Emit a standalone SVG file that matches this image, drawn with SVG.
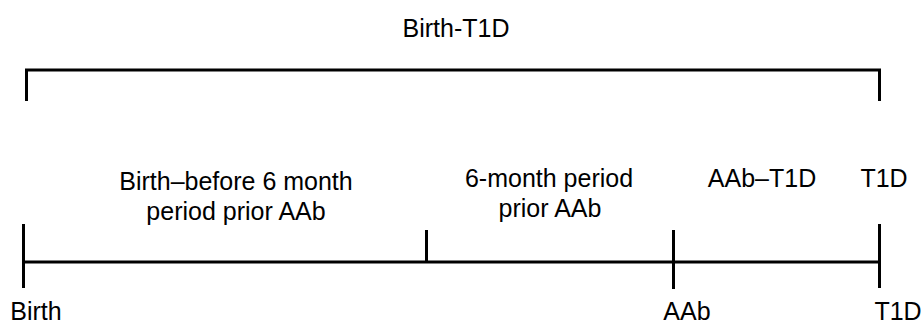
<svg xmlns="http://www.w3.org/2000/svg" width="923" height="325" viewBox="0 0 923 325">
<style>
  text { font-family: "Liberation Sans", Arial, sans-serif; font-size: 25px; fill: #000; text-anchor: middle; }
  .ln { stroke: #000; stroke-width: 3; fill: none; stroke-linecap: butt; }
</style>
<rect width="923" height="325" fill="#fff"/>
<g id="connectors">
  <path class="ln" d="M26.5 101 V70 H879.5 V101"/>
  <line class="ln" x1="22" y1="262" x2="881" y2="262"/>
  <line class="ln" x1="23.5" y1="224" x2="23.5" y2="288"/>
  <line class="ln" x1="426.5" y1="230" x2="426.5" y2="262"/>
  <line class="ln" x1="673.5" y1="230" x2="673.5" y2="289"/>
  <line class="ln" x1="879.5" y1="224" x2="879.5" y2="288"/>
</g>
<g id="label-birth-t1d"><text x="456" y="37">Birth-T1D</text></g>
<g id="label-birth-before"><text x="236" y="190">Birth–before 6 month</text><text x="236" y="220">period prior AAb</text></g>
<g id="label-6month"><text x="549" y="187">6-month period</text><text x="550" y="217">prior AAb</text></g>
<g id="label-aab-t1d"><text x="762" y="187">AAb–T1D</text></g>
<g id="label-t1d-top"><text x="884" y="187">T1D</text></g>
<g id="label-birth"><text x="36" y="320">Birth</text></g>
<g id="label-aab"><text x="687" y="320">AAb</text></g>
<g id="label-t1d"><text x="898" y="320">T1D</text></g>
</svg>
